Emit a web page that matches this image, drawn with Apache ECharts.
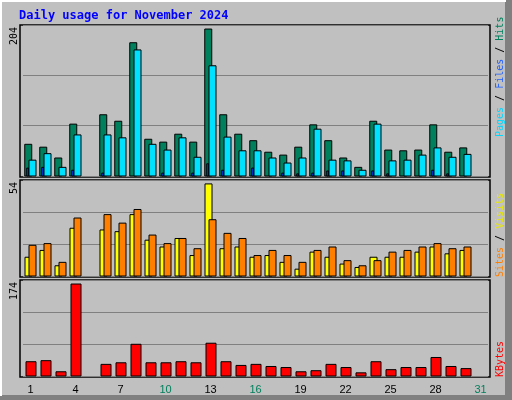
<!DOCTYPE html>
<html>
<head>
<meta charset="utf-8">
<script src="https://cdn.jsdelivr.net/npm/echarts@6/dist/echarts.min.js"></script>
<style>html,body{margin:0;padding:0;background:#c0c0c0}#chart{width:512px;height:400px}</style>
</head>
<body>
<div id="chart"></div>
<script>
var days = ['1','2','3','4','5','6','7','8','9','10','11','12','13','14','15','16','17','18','19','20','21','22','23','24','25','26','27','28','29','30','31']
var weekend = ['2','3','9','10','16','17','23','24','30','31']
var hits   = [44,40,25,72,0,85,76,185,51,47,58,47,204,85,58,49,33,29,40,71,49,25,12,76,36,35,36,71,33,39,0]
var files  = [22,31,12,57,0,57,53,175,44,36,53,26,153,54,35,35,25,18,25,65,22,21,8,72,21,22,29,39,26,30,0]
var pages  = [11,12,0,8,0,4,0,0,0,4,0,4,17,8,0,11,0,4,3,4,7,7,0,7,3,0,0,8,3,0,0]
var visits = [11,15,6,28,0,27,26,36,21,17,22,12,54,16,17,11,12,8,4,14,11,7,5,11,11,11,14,17,13,15,0]
var sites  = [18,19,8,34,0,36,31,39,24,19,22,16,33,25,22,12,15,12,8,15,17,9,6,9,14,15,17,19,16,17,0]
var kbytes = [27,29,8,174,0,22,25,60,25,25,27,25,62,27,20,22,18,16,8,10,22,16,6,27,12,16,16,35,18,14,0]
var topMax = [209.6, 56.3, 181.6] // axis tops, labels show 204 / 54 / 174

var chart = echarts.init(document.getElementById('chart'))

// bar drawn at pixel offset from the category centre
function barSeries(data, idx, offset, width, color) {
  return {
    type: 'custom',
    xAxisIndex: idx, yAxisIndex: idx,
    data: data.map(function (v, i) { return [i, v] }),
    renderItem: function (params, api) {
      if (!api.value(1)) return null
      var p = api.coord([api.value(0), api.value(1)])
      var b = api.coord([api.value(0), 0])
      return {
        type: 'rect',
        shape: { x: p[0] + offset, y: p[1], width: width, height: b[1] - p[1] },
        style: { fill: color, stroke: '#000', lineWidth: 1 }
      }
    }
  }
}

var grids = [{ top: 25, height: 151 }, { top: 180, height: 96 }, { top: 280, height: 96 }]
var xAxes = [], yAxes = []
grids.forEach(function (g, i) {
  g.left = 23; g.right = 24
  xAxes.push({
    type: 'category', gridIndex: i, data: days, boundaryGap: true,
    axisLine: { show: false }, axisTick: { show: false },
    axisLabel: i < 2 ? { show: false } : {
      margin: 8, fontFamily: 'Liberation Sans', fontSize: 11,
      formatter: function (v) { return weekend.indexOf(v) >= 0 ? '{w|' + v + '}' : '{n|' + v + '}' },
      rich: { w: { color: '#00805c', fontSize: 11 }, n: { color: '#000', fontSize: 11 } }
    }
  })
  yAxes.push({
    type: 'value', gridIndex: i, min: 0, max: topMax[i], interval: topMax[i] / 3,
    axisLabel: { show: false }, axisLine: { show: false }, axisTick: { show: false },
    splitLine: { lineStyle: { color: '#808080', width: 1 } }
  })
})

function vtext(x, y, align, rich, txt) {
  return { type: 'text', x: x, y: y, rotation: Math.PI / 2, z: 100,
    style: { text: txt, rich: rich, align: align, verticalAlign: 'middle',
      font: '10px "DejaVu Sans Mono"', fill: '#000' } }
}
var rich = {
  p: { fill: '#00d8ff', font: '10px "DejaVu Sans Mono"' },
  f: { fill: '#2060ff', font: '10px "DejaVu Sans Mono"' },
  h: { fill: '#00805c', font: '10px "DejaVu Sans Mono"' },
  s: { fill: '#ff8000', font: '10px "DejaVu Sans Mono"' },
  v: { fill: '#e8e800', font: '10px "DejaVu Sans Mono"' },
  k: { fill: '#ff0000', font: '10px "DejaVu Sans Mono"' },
  b: { fill: '#000', font: '10px "DejaVu Sans Mono"' }
}

var graphics = [
  { type: 'rect', z: -10, shape: { x: 0, y: 0, width: 512, height: 400 }, style: { fill: '#c0c0c0' } },
  { type: 'rect', z: -9, shape: { x: 505, y: 0, width: 7, height: 400 }, style: { fill: '#808080' } },
  { type: 'rect', z: -9, shape: { x: 0, y: 395, width: 512, height: 5 }, style: { fill: '#808080' } },
  { type: 'rect', z: -9, shape: { x: 0, y: 0, width: 2, height: 396 }, style: { fill: '#ffffff' } },
  { type: 'rect', z: -9, shape: { x: 0, y: 0, width: 506, height: 2 }, style: { fill: '#ffffff' } },
  { type: 'text', x: 19, y: 10, z: 100, style: { text: 'Daily usage for November 2024', font: 'bold 12px "DejaVu Sans Mono"', fill: '#0000ff' } },
  vtext(14, 27, 'right', rich, '204'),
  vtext(14, 182, 'right', rich, '54'),
  vtext(14, 282, 'right', rich, '174'),
  vtext(500, 137, 'left', rich, '{p|Pages}{b| / }{f|Files}{b| / }{h|Hits}'),
  vtext(500, 277, 'left', rich, '{s|Sites}{b| / }{v|Visits}'),
  vtext(500, 377, 'left', rich, '{k|KBytes}')
]
var boxes = [[25, 152], [180, 97], [280, 97]]
boxes.forEach(function (b) {
  graphics.push({ type: 'rect', z: -5, shape: { x: 20, y: b[0], width: 470, height: b[1] }, style: { fill: '#c0c0c0', stroke: '#000', lineWidth: 1.5 } })
})

chart.setOption({
  animation: false,
  grid: grids,
  xAxis: xAxes,
  yAxis: yAxes,
  graphic: graphics,
  series: [
    barSeries(hits, 0, -5.75, 7, '#00805c'),
    barSeries(pages, 0, -3.75, 2, '#0040ff'),
    barSeries(files, 0, -1.5, 7, '#00e0ff'),
    barSeries(visits, 1, -5.5, 7, '#ffff00'),
    barSeries(sites, 1, -1.5, 7, '#ff8000'),
    barSeries(kbytes, 2, -4.5, 10, '#ff0000')
  ]
})
</script>
</body>
</html>
